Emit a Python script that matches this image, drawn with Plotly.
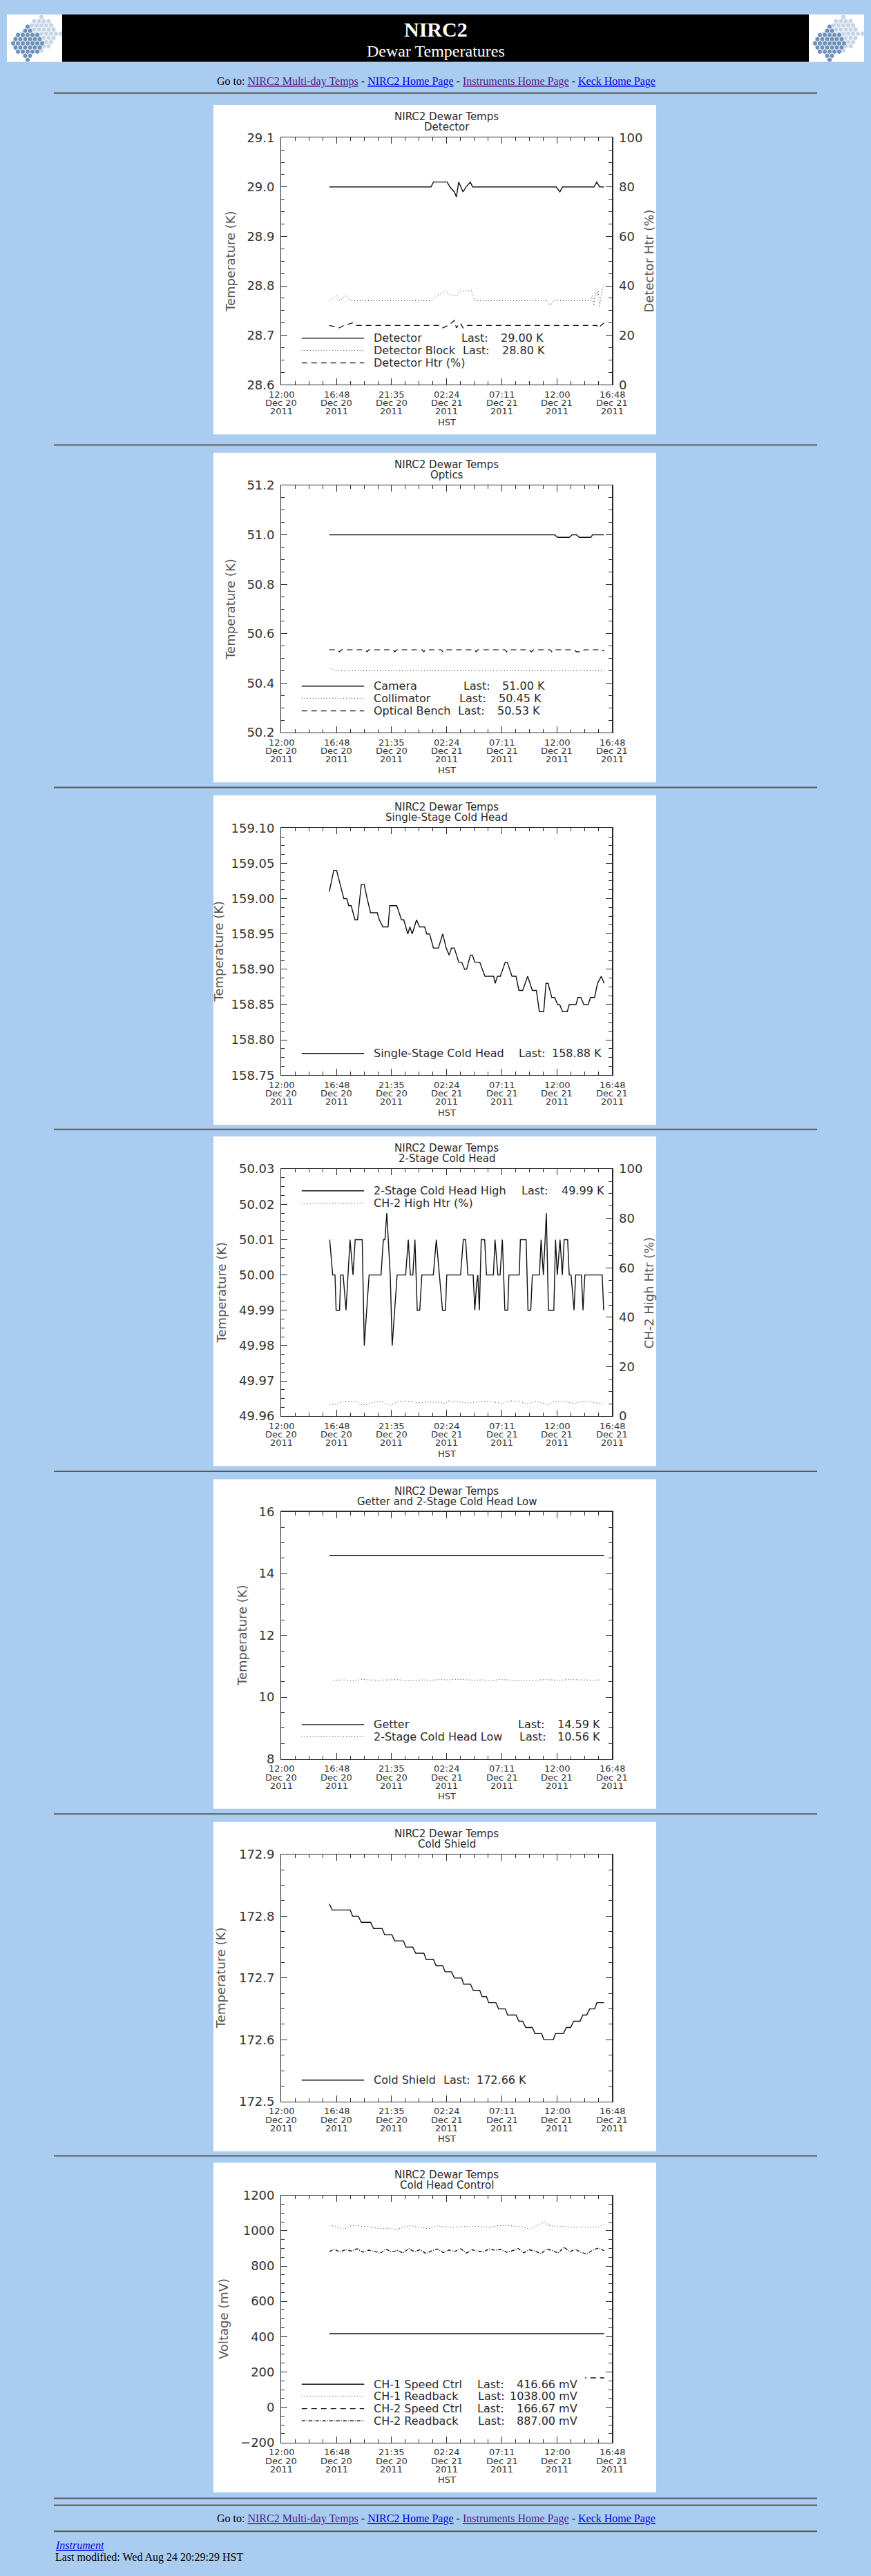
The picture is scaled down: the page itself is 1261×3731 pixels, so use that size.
import plotly.graph_objects as go

W, H = 1261, 3731

# time axis: hours after 12:00 HST, Dec 20 2011
TICK_HOURS = [0.0, 4.8, 9.6, 14.4, 19.2, 24.0, 28.8]
TICK_TIME = ["12:00", "16:48", "21:35", "02:24", "07:11", "12:00", "16:48"]
TICK_DATE = ["Dec 20", "Dec 20", "Dec 20", "Dec 21", "Dec 21", "Dec 21", "Dec 21"]
TICK_YEAR = ["2011"] * 7

# --- Detector
DET_T = [4.18, 13.03, 13.24, 14.43, 14.68, 15.06, 15.24, 15.44, 15.82, 16.07, 16.45, 16.65,
         23.92, 24.25, 24.47, 27.21, 27.46, 27.71, 28.09]
DET_V = [29.00, 29.00, 29.01, 29.01, 29.00, 28.99, 28.98, 29.01, 28.99, 29.00, 29.01, 29.00,
         29.00, 28.99, 29.00, 29.00, 29.01, 29.00, 29.00]
DETBLK_T = [4.18, 4.81, 5.06, 5.69, 6.07, 13.03, 13.54, 14.30, 14.81, 15.31, 15.57, 16.58, 16.83,
            23.16, 23.41, 23.67, 26.95, 27.08, 27.21, 27.33, 27.46, 27.59, 27.71, 27.92, 28.09]
DETBLK_V = [28.77, 28.78, 28.77, 28.78, 28.77, 28.77, 28.78, 28.79, 28.78, 28.78, 28.79, 28.79, 28.77,
            28.77, 28.76, 28.77, 28.77, 28.78, 28.76, 28.79, 28.78, 28.79, 28.76, 28.79, 28.80]
DETHTR_T = [4.18, 5.06, 5.44, 6.20, 6.45, 13.79, 14.05, 14.55, 15.06, 15.24, 15.57, 15.82, 16.07,
            27.46, 27.59, 28.09]
DETHTR_V = [24, 23, 24, 25, 24, 24, 23, 24, 26, 23, 25, 23, 24, 24, 23, 25]

# --- Optics
CAM_T = [4.18, 23.79, 24.05, 25.06, 25.31, 25.69, 25.94, 26.95, 27.08, 28.09]
CAM_V = [51.00, 51.00, 50.99, 50.99, 51.00, 51.00, 50.99, 50.99, 51.00, 51.00]
COLL_T = [4.30, 4.81, 28.09]
COLL_V = [50.46, 50.45, 50.45]
OB_T = [4.18, 4.90, 5.06, 5.25, 7.30, 7.47, 7.62, 9.70, 9.87, 10.05, 12.25, 12.40, 12.55,
        13.90, 14.05, 14.20, 16.80, 16.96, 17.10, 19.45, 19.62, 19.80, 21.60, 21.77, 21.95,
        23.40, 23.54, 23.70, 25.50, 25.69, 26.20, 26.40, 27.90, 28.09]
OB_V = [50.535, 50.535, 50.527, 50.535, 50.535, 50.527, 50.535, 50.535, 50.527, 50.535,
        50.535, 50.527, 50.535, 50.535, 50.527, 50.535, 50.535, 50.527, 50.535, 50.535,
        50.527, 50.535, 50.535, 50.527, 50.535, 50.535, 50.527, 50.535, 50.535, 50.527,
        50.527, 50.535, 50.535, 50.530]

# --- Single-stage cold head
SS_T = [4.18, 4.56, 4.81, 5.14, 5.44, 5.70, 5.87, 6.08, 6.41, 6.63, 6.96, 7.22, 7.47, 7.77,
        8.35, 8.53, 8.84, 9.29, 9.44, 10.05, 10.46, 10.66, 11.01, 11.19, 11.39, 11.77, 12.03,
        12.48, 12.66, 12.91, 13.24, 13.67, 14.05, 14.35, 14.61, 14.81, 15.06, 15.44, 15.70,
        15.95, 16.13, 16.46, 16.63, 16.84, 17.27, 17.72, 18.48, 18.61, 18.81, 19.06, 19.49,
        19.67, 20.08, 20.43, 20.68, 21.01, 21.44, 21.85, 22.20, 22.46, 22.84, 23.04, 23.22,
        23.54, 23.80, 24.05, 24.23, 24.48, 24.89, 25.06, 25.65, 25.82, 26.08, 26.33, 26.71,
        26.91, 27.27, 27.52, 27.85, 28.10]
SS_V = [159.01, 159.04, 159.04, 159.02, 159.00, 159.00, 158.99, 158.99, 158.97, 158.97,
        159.02, 159.02, 159.00, 158.98, 158.98, 158.97, 158.96, 158.96, 158.99, 158.99,
        158.97, 158.97, 158.95, 158.96, 158.95, 158.97, 158.96, 158.96, 158.95, 158.95,
        158.93, 158.93, 158.95, 158.93, 158.92, 158.93, 158.93, 158.91, 158.91, 158.90,
        158.90, 158.92, 158.92, 158.91, 158.91, 158.89, 158.89, 158.88, 158.89, 158.89,
        158.91, 158.91, 158.89, 158.89, 158.87, 158.87, 158.89, 158.87, 158.87, 158.84,
        158.84, 158.88, 158.88, 158.86, 158.86, 158.85, 158.85, 158.84, 158.84, 158.85,
        158.85, 158.86, 158.86, 158.85, 158.85, 158.86, 158.86, 158.88, 158.89, 158.88]

# --- 2-stage cold head
CH2H_T = [4.21, 4.47, 4.67, 4.77, 5.07, 5.17, 5.38, 5.63, 5.98, 6.24, 6.43, 7.04, 7.22, 7.64,
          8.68, 8.88, 9.02, 9.18, 9.48, 9.65, 10.08, 10.82, 11.05, 11.23, 11.45, 11.63, 11.83,
          12.05, 12.23, 13.23, 13.49, 14.03, 14.29, 14.40, 15.60, 15.84, 16.04, 16.24, 16.70,
          16.84, 17.00, 17.10, 17.24, 17.40, 17.70, 17.86, 18.46, 18.60, 18.85, 19.04, 19.24,
          19.46, 19.71, 19.81, 20.71, 20.81, 21.31, 21.47, 21.71, 21.85, 22.47, 22.61, 22.81,
          23.07, 23.25, 23.72, 23.87, 24.02, 24.26, 24.46, 24.62, 24.92, 25.06, 25.22, 25.48,
          25.62, 26.12, 26.26, 26.42, 27.93, 28.06]
CH2H_V = [50.01, 50.00, 50.00, 49.99, 49.99, 50.00, 50.00, 49.99, 50.01, 50.00, 50.01, 50.01,
          49.98, 50.00, 50.00, 50.01, 50.01, 50.0175, 50.00, 49.98, 50.00, 50.00, 50.01, 50.00,
          50.00, 50.01, 49.99, 49.99, 50.00, 50.00, 50.01, 49.99, 49.99, 50.00, 50.00, 50.01,
          50.01, 50.00, 50.00, 49.99, 49.9975, 50.00, 49.99, 50.01, 50.01, 50.00, 50.00, 50.01,
          50.00, 50.00, 50.01, 49.99, 49.99, 50.00, 50.00, 50.01, 50.01, 49.99, 49.99, 50.00,
          50.00, 50.01, 50.00, 50.0175, 49.99, 49.99, 50.01, 50.00, 50.01, 50.00, 50.01, 50.01,
          50.00, 50.00, 49.99, 50.00, 50.00, 49.99, 50.00, 50.00, 49.99]
HTR2_T = [4.18, 4.56, 5.44, 6.46, 7.09, 7.97, 8.73, 9.44, 10.25, 11.27, 11.90, 12.78, 13.80,
          14.18, 14.56, 15.57, 16.33, 17.34, 18.35, 19.24, 19.87, 20.76, 21.39, 22.15, 22.91,
          23.22, 23.80, 24.94, 25.57, 26.08, 26.96, 27.85, 28.10]
HTR2_V = [4.9, 4.6, 6.0, 6.0, 4.4, 5.6, 6.0, 4.4, 6.0, 6.0, 5.3, 5.7, 5.6, 5.1, 6.2, 5.8, 5.3,
          6.0, 5.8, 5.1, 6.2, 6.0, 4.9, 6.0, 5.1, 4.4, 6.0, 5.7, 5.1, 6.0, 5.7, 5.1, 5.6]

# --- Getter and 2-stage low
GET_T = [4.18, 22.65, 22.78, 22.91, 28.09]
GET_V = [14.59, 14.59, 14.58, 14.59, 14.59]
LOW_T = [4.56, 5.5, 6.4, 7.0, 7.6, 8.5, 9.3, 10.0, 10.6, 11.5, 12.3, 13.0, 13.8, 14.5, 15.3,
         16.0, 16.8, 17.5, 18.3, 19.0, 19.8, 20.5, 21.3, 22.0, 22.8, 23.5, 24.3, 25.0, 25.8,
         26.5, 27.2, 27.72]
LOW_V = [10.55, 10.56, 10.53, 10.58, 10.56, 10.55, 10.56, 10.57, 10.55, 10.54, 10.56, 10.55,
         10.57, 10.56, 10.58, 10.56, 10.55, 10.56, 10.54, 10.57, 10.56, 10.53, 10.55, 10.54,
         10.57, 10.56, 10.55, 10.57, 10.56, 10.56, 10.55, 10.56]

# --- Cold shield
CS_T = [4.18, 4.43, 6.00, 6.20, 6.71, 6.96, 7.77, 8.03, 8.78, 8.99, 9.62, 9.87, 10.63, 10.84,
        11.44, 11.70, 12.41, 12.61, 13.24, 13.47, 14.05, 14.25, 14.81, 15.06, 15.70, 15.87,
        16.46, 16.71, 17.27, 17.47, 17.85, 18.05, 18.68, 18.91, 19.49, 19.70, 20.43, 20.68,
        21.01, 21.27, 21.85, 22.08, 22.66, 22.86, 23.67, 23.87, 24.56, 24.81, 25.19, 25.44,
        26.00, 26.25, 26.58, 26.84, 27.27, 27.47, 28.10]
CS_V = [172.82, 172.81, 172.81, 172.80, 172.80, 172.79, 172.79, 172.78, 172.78, 172.77,
        172.77, 172.76, 172.76, 172.75, 172.75, 172.74, 172.74, 172.73, 172.73, 172.72,
        172.72, 172.71, 172.71, 172.70, 172.70, 172.69, 172.69, 172.68, 172.68, 172.67,
        172.67, 172.66, 172.66, 172.65, 172.65, 172.64, 172.64, 172.63, 172.63, 172.62,
        172.62, 172.61, 172.61, 172.60, 172.60, 172.61, 172.61, 172.62, 172.62, 172.63,
        172.63, 172.64, 172.64, 172.65, 172.65, 172.66, 172.66]

# --- Cold head control (mV)
CH1SPD_T = [4.18, 28.10]
CH1SPD_V = [416.66, 416.66]
CH1RB_T = [4.43, 4.94, 5.44, 5.95, 6.46, 6.96, 7.72, 8.48, 9.24, 10.00, 10.76, 11.27, 12.03,
           12.78, 13.54, 14.30, 15.06, 15.82, 16.58, 17.34, 18.10, 18.86, 19.62, 20.38, 21.14,
           21.65, 22.15, 22.91, 23.29, 23.92, 24.68, 25.44, 26.20, 26.96, 27.72, 28.10]
CH1RB_V = [1028, 1019, 1008, 1025, 1031, 1025, 1022, 1012, 1014, 1005, 1025, 1028, 1019, 1012,
           1028, 1022, 1019, 1025, 1022, 1025, 1019, 1028, 1031, 1025, 1019, 1008, 1025, 1050,
           1031, 1022, 1025, 1019, 1022, 1019, 1022, 1038]
CH2SPD_T = [4.18, 28.10]
CH2SPD_V = [166.67, 166.67]
CH2RB_T = [4.18, 4.6, 5.1, 5.6, 6.1, 6.6, 7.1, 7.6, 8.1, 8.6, 9.1, 9.6, 10.1, 10.6, 11.1, 11.6,
           12.1, 12.6, 13.1, 13.6, 14.1, 14.6, 15.1, 15.6, 16.1, 16.6, 17.1, 17.6, 18.1, 18.6,
           19.1, 19.6, 20.1, 20.6, 21.1, 21.6, 22.1, 22.6, 23.1, 23.6, 24.1, 24.6, 25.1, 25.6,
           26.1, 26.6, 27.1, 27.6, 28.1]
CH2RB_V = [882, 895, 880, 893, 885, 898, 878, 890, 884, 872, 896, 880, 888, 874, 899, 881, 893,
           870, 887, 896, 876, 891, 883, 899, 873, 892, 885, 880, 897, 889, 894, 878, 886, 900,
           875, 892, 884, 870, 896, 888, 873, 907, 881, 895, 877, 869, 890, 902, 887]

# ---------------------------------------------------------------- styling
BG = "#AACCF0"
INK = "#2a2a2a"
FONT = "DejaVu Sans"
SERIF = "Liberation Serif"
PLOT_L, PLOT_W, PLOT_H = 407.3, 479.0, 360.0
LINES = {
    "solid": dict(dash="solid", width=1.4, color="#111"),
    "dot": dict(dash="1px,3px", width=1.0, color="#333"),
    "dash": dict(dash="8px,6px", width=1.3, color="#111"),
    "dashdot": dict(dash="5px,2px,1px,2px", width=1.4, color="#111"),
}

CHARTS = [
    dict(sub="Detector", top=189.3, yr=(28.6, 29.1), dt=0.1, fmt=".1f",
         ytitle="Temperature (K)", tsh=-74.5, right=dict(title="Detector Htr (%)"),
         series=[(DET_T, DET_V, "solid", False), (DETBLK_T, DETBLK_V, "dot", False),
                 (DETHTR_T, DETHTR_V, "dash", True)],
         legend=[("Detector", "29.00 K", 0.188, 0.540, 0.797),
                 ("Detector Block", "28.80 K", 0.139, 0.545, 0.800),
                 ("Detector Htr (%)", None, 0.088, 0, 0)]),
    dict(sub="Optics", top=696.0, yr=(50.2, 51.2), dt=0.2, fmt=".1f",
         ytitle="Temperature (K)", tsh=-74.5, right=None,
         series=[(CAM_T, CAM_V, "solid", False), (COLL_T, COLL_V, "dot", False),
                 (OB_T, OB_V, "dash", False)],
         legend=[("Camera", "51.00 K", 0.188, 0.547, 0.802),
                 ("Collimator", "50.45 K", 0.139, 0.534, 0.791),
                 ("Optical Bench", "50.53 K", 0.088, 0.530, 0.786)]),
    dict(sub="Single-Stage Cold Head", top=1195.0, yr=(158.75, 159.10), dt=0.05, fmt=".2f",
         ytitle="Temperature (K)", tsh=-91, right=None,
         series=[(SS_T, SS_V, "solid", False)],
         legend=[("Single-Stage Cold Head", "158.88 K", 0.088, 0.714, 0.973)]),
    dict(sub="2-Stage Cold Head", top=1691.7, yr=(49.96, 50.03), dt=0.01, fmt=".2f",
         ytitle="Temperature (K)", tsh=-87, right=dict(title="CH-2 High Htr (%)"),
         series=[(CH2H_T, CH2H_V, "solid", False), (HTR2_T, HTR2_V, "dot", True)],
         legend=[("2-Stage Cold Head High", "49.99 K", 0.912, 0.721, 0.980),
                 ("CH-2 High Htr (%)", None, 0.861, 0, 0)]),
    dict(sub="Getter and 2-Stage Cold Head Low", top=2191.0, yr=(8, 16), dt=2, fmt="d",
         ytitle="Temperature (K)", tsh=-57, right=None,
         series=[(GET_T, GET_V, "solid", False), (LOW_T, LOW_V, "dot", False)],
         legend=[("Getter", "14.59 K", 0.139, 0.712, 0.968),
                 ("2-Stage Cold Head Low", "10.56 K", 0.090, 0.716, 0.968)]),
    dict(sub="Cold Shield", top=2690.0, yr=(172.5, 172.9), dt=0.1, fmt=".1f",
         ytitle="Temperature (K)", tsh=-87, right=None,
         series=[(CS_T, CS_V, "solid", False)],
         legend=[("Cold Shield", "172.66 K", 0.087, 0.486, 0.745)]),
    dict(sub="Cold Head Control", top=3186.7, yr=(-200, 1200), dt=200, fmt="d",
         ytitle="Voltage (mV)", tsh=-84, right=None, legend_box=(0.04, 0.918, 0.055, 0.27),
         series=[(CH1SPD_T, CH1SPD_V, "solid", False), (CH1RB_T, CH1RB_V, "dot", False),
                 (CH2SPD_T, CH2SPD_V, "dash", False), (CH2RB_T, CH2RB_V, "dashdot", False)],
         legend=[("CH-1 Speed Ctrl", "416.66 mV", 0.236, 0.589, 0.899),
                 ("CH-1 Readback", "1038.00 mV", 0.188, 0.591, 0.899),
                 ("CH-2 Speed Ctrl", "166.67 mV", 0.137, 0.589, 0.899),
                 ("CH-2 Readback", "887.00 mV", 0.088, 0.591, 0.899)]),
]


def aid(letter, i):
    return letter if i == 1 else f"{letter}{i}"


def py(y):
    return 1 - y / H


fig = go.Figure()
layout = {}
shapes = []
annotations = []

AXIS_COMMON = dict(showline=True, linecolor=INK, linewidth=1.2, ticks="inside", ticklen=9,
                   tickwidth=1, tickcolor=INK, showgrid=False, zeroline=False, fixedrange=True)

# page furniture: panels behind each chart image
for c in CHARTS:
    ptop = c["top"] - 47.5
    shapes.append(dict(type="rect", xref="paper", yref="paper", x0=309 / W, x1=950 / W,
                       y0=py(ptop + 480), y1=py(ptop), fillcolor="white", line_width=0,
                       layer="below"))

for i, c in enumerate(CHARTS, start=1):
    xa, ya = aid("x", i), aid("y", i)
    xdom = [PLOT_L / W, (PLOT_L + PLOT_W) / W]
    ydom = [py(c["top"] + PLOT_H), py(c["top"])]
    lo, hi = c["yr"]
    eps = (hi - lo) * 1e-6
    layout["xaxis" if i == 1 else f"xaxis{i}"] = dict(
        domain=xdom, anchor=ya, range=[0, 28.8], tickmode="array", tickvals=TICK_HOURS,
        showticklabels=False, mirror="ticks",
        minor=dict(tickmode="linear", tick0=0, dtick=1.2, ticks="inside", ticklen=5,
                   tickcolor=INK, showgrid=False),
        **AXIS_COMMON)
    layout["yaxis" if i == 1 else f"yaxis{i}"] = dict(
        domain=ydom, anchor=xa, range=[lo - eps, hi + eps], tickmode="linear", tick0=lo,
        dtick=c["dt"], tickformat=c["fmt"], ticklabelstandoff=5,
        tickfont=dict(size=18, color="#333", family=FONT),
        mirror=False if c["right"] else "ticks",
        minor=dict(tickmode="linear", tick0=lo, dtick=c["dt"] / 4, ticks="inside", ticklen=5,
                   tickcolor=INK, showgrid=False),
        **AXIS_COMMON)
    ry = None
    if c["right"]:
        rnum = 8 if i == 1 else 9
        ry = f"y{rnum}"
        layout[f"yaxis{rnum}"] = dict(
            overlaying=ya, anchor=xa, side="right", range=[-1e-4, 100 + 1e-4], tickmode="linear",
            tick0=0, dtick=20, ticklabelstandoff=5,
            tickfont=dict(size=18, color="#333", family=FONT),
            minor=dict(tickmode="linear", tick0=0, dtick=5, ticks="inside", ticklen=5,
                       tickcolor=INK, showgrid=False),
            **AXIS_COMMON)
        annotations.append(dict(text=c["right"]["title"], xref=f"{xa} domain", yref=f"{ya} domain",
                                x=1, y=0.5, xshift=53, textangle=-90, showarrow=False,
                                xanchor="center", yanchor="middle",
                                font=dict(size=18, color="#555", family=FONT)))

    for t, v, style, on_right in c["series"]:
        fig.add_trace(go.Scatter(x=t, y=v, mode="lines", line=LINES[style], xaxis=xa,
                                 yaxis=ry if on_right else ya, showlegend=False,
                                 hoverinfo="skip"))

    xd, yd = f"{xa} domain", f"{ya} domain"
    # two-line chart title
    for text, dy in (("NIRC2 Dewar Temps", 30), (c["sub"], 15)):
        annotations.append(dict(text=text, xref=xd, yref=yd, x=0.5, y=1, yshift=dy,
                                showarrow=False, xanchor="center", yanchor="middle",
                                font=dict(size=15, color=INK, family=FONT)))
    # left axis title
    annotations.append(dict(text=c["ytitle"], xref=xd, yref=yd, x=0, y=0.5, xshift=c["tsh"],
                            textangle=-90, showarrow=False, xanchor="center", yanchor="middle",
                            font=dict(size=18, color="#555", family=FONT)))
    # three-row date labels under each tick, then the zone name
    for k, hv in enumerate(TICK_HOURS):
        for text, dy in ((TICK_TIME[k], -14), (TICK_DATE[k], -26.4), (TICK_YEAR[k], -38.4)):
            annotations.append(dict(text=text, xref=xa, yref=yd, x=hv, y=0, yshift=dy,
                                    showarrow=False, xanchor="center", yanchor="middle",
                                    font=dict(size=13, color="#333", family=FONT)))
    annotations.append(dict(text="HST", xref=xd, yref=yd, x=0.5, y=0, yshift=-54,
                            showarrow=False, xanchor="center", yanchor="middle",
                            font=dict(size=13, color="#333", family=FONT)))

    # IDL-style legend drawn inside the plot
    if c.get("legend_box"):
        bx0, bx1, by0, by1 = c["legend_box"]
        shapes.append(dict(type="rect", xref=xd, yref=yd, x0=bx0, x1=bx1, y0=by0, y1=by1,
                           fillcolor="white", line_width=0, layer="above"))
    for (name, val, ly, lx, vx), (_, _, style, _) in zip(c["legend"], c["series"]):
        st = LINES[style]
        shapes.append(dict(type="line", xref=xd, yref=yd, x0=0.0615, x1=0.2504, y0=ly, y1=ly,
                           line=dict(color=st["color"], width=st["width"], dash=st["dash"]),
                           layer="above"))
        annotations.append(dict(text=name, xref=xd, yref=yd, x=0.275, y=ly, showarrow=False,
                                xanchor="left", yanchor="middle",
                                font=dict(size=16, color=INK, family=FONT)))
        if val:
            annotations.append(dict(text="Last:", xref=xd, yref=yd, x=lx, y=ly, showarrow=False,
                                    xanchor="left", yanchor="middle",
                                    font=dict(size=16, color=INK, family=FONT)))
            annotations.append(dict(text=val, xref=xd, yref=yd, x=vx, y=ly, showarrow=False,
                                    xanchor="right", yanchor="middle",
                                    font=dict(size=16, color=INK, family=FONT)))

# header banner and logos
shapes.append(dict(type="rect", xref="paper", yref="paper", x0=90 / W, x1=1171 / W,
                   y0=py(79), y1=py(10), fillcolor="black", line_width=0, layer="below"))
for lx0 in (10, 1171):
    shapes.append(dict(type="rect", xref="paper", yref="paper", x0=lx0 / W, x1=(lx0 + 80) / W,
                       y0=py(79), y1=py(10), fillcolor="white", line_width=0, layer="below"))


def hex_cells(cx, cy, hw, hh, step=7.0):
    xs, ys = [], []
    for r in range(-12, 13):
        for col in range(-12, 13):
            x = col * step + (r % 2) * step / 2
            y = r * step * 0.866
            if abs(x) / hw + abs(y) / hh <= 1:
                xs.append(cx + x)
                ys.append(cy + y)
    return xs, ys


for n, lx0 in ((10, 10), (11, 1171)):
    layout[f"xaxis{n}"] = dict(domain=[lx0 / W, (lx0 + 80) / W], range=[0, 80], visible=False,
                               anchor=f"y{n}", fixedrange=True)
    layout[f"yaxis{n}"] = dict(domain=[py(79), py(10)], range=[69, 0], visible=False,
                               anchor=f"x{n}", fixedrange=True)
    for (cx, cy, hw, hh), col in (((50, 28, 30, 30), "#C6D5E6"), ((30, 42, 26, 29), "#6D91BB")):
        hx, hy = hex_cells(cx, cy, hw, hh)
        fig.add_trace(go.Scatter(x=hx, y=hy, mode="markers", xaxis=f"x{n}", yaxis=f"y{n}",
                                 marker=dict(symbol="hexagon", size=7.5, color=col,
                                             line=dict(width=0.6, color="white")),
                                 showlegend=False, hoverinfo="skip"))

# horizontal rules
for yy in (124.5, 637, 1136, 1634, 2132, 2631, 3129, 3628, 3638, 3676):
    shapes.append(dict(type="line", xref="paper", yref="paper", x0=78 / W, x1=1183 / W,
                       y0=py(yy), y1=py(yy), line=dict(color="#5a5a5a", width=2), layer="below"))

VISITED, LINK = "#551A8B", "#0000EE"
NAV = ("Go to: <span style='color:%s'><u>NIRC2 Multi-day Temps</u></span> - "
       "<span style='color:%s'><u>NIRC2 Home Page</u></span> - "
       "<span style='color:%s'><u>Instruments Home Page</u></span> - "
       "<span style='color:%s'><u>Keck Home Page</u></span>") % (VISITED, LINK, VISITED, LINK)

page_text = [
    ("<b>NIRC2</b>", 630.5, 32, 30, "white", "center"),
    ("Dewar Temperatures", 630.5, 63, 24, "white", "center"),
    (NAV, 631, 108, 16, "black", "center"),
    (NAV, 631, 3658, 16, "black", "center"),
    ("<i><span style='color:%s'><u>Instrument</u></span></i>" % LINK, 78, 3696, 16, "black", "left"),
    ("Last modified: Wed Aug 24 20:29:29 HST", 78, 3714, 16, "black", "left"),
]
for text, x, y, size, colr, anchor in page_text:
    annotations.append(dict(text=text, xref="paper", yref="paper", x=x / W, y=py(y),
                            showarrow=False, xanchor=anchor, yanchor="middle",
                            font=dict(size=size, color=colr, family=SERIF)))

layout.update(width=W, height=H, margin=dict(l=0, r=0, t=0, b=0), paper_bgcolor=BG,
              plot_bgcolor="white", font=dict(family=FONT, color=INK), showlegend=False,
              hovermode=False, shapes=shapes, annotations=annotations)
fig.update_layout(layout)

fig.write_html("out.html", config=dict(displayModeBar=False, staticPlot=True),
               post_script="document.body.style.margin='0';"
                           "document.body.style.overflow='hidden';"
                           "document.body.style.background='%s';" % BG)
